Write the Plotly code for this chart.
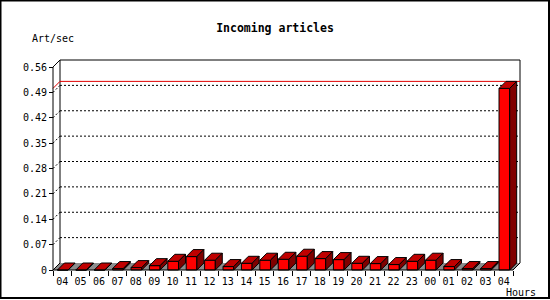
import plotly.graph_objects as go

# ---------------- data ----------------
hours = ["04", "05", "06", "07", "08", "09", "10", "11", "12", "13", "14", "15",
         "16", "17", "18", "19", "20", "21", "22", "23", "00", "01", "02", "03", "04"]
values = [0.0, 0.0, 0.0, 0.004, 0.0066, 0.012, 0.024, 0.037, 0.027, 0.0094, 0.0185, 0.027,
          0.0296, 0.038, 0.0315, 0.0287, 0.0185, 0.0177, 0.015, 0.024, 0.027, 0.0094, 0.004, 0.004, 0.501]
y_ticks = [0, 0.07, 0.14, 0.21, 0.28, 0.35, 0.42, 0.49, 0.56]
y_ticktext = ["0", "0.07", "0.14", "0.21", "0.28", "0.35", "0.42", "0.49", "0.56"]
title_text = "Incoming articles"
y_title = "Art/sec"
x_title = "Hours"

# ---------------- geometry ----------------
W, H = 550, 300
L, R, T, B = 40, 15, 50, 20
pw, ph = W - L - R, H - T - B
x0px, y0px = 53, 270          # front axis origin in pixels
ux = 18.4                     # px per category
ytop = y_ticks[-1]
uy = (y0px - 67) / ytop       # px per unit value
depth = 7
dx, dy = depth / ux, depth / uy
n = len(hours)
xr = [(L - x0px) / ux, (W - R - x0px) / ux]
yr = [(y0px - (H - B)) / uy, (y0px - T) / uy]
bar_off, bar_w = 0.24, 0.58

FRONT, TOP, SIDE, FLOOR = "#ff0000", "#c00000", "#800000", "#8c8c8c"
FONT = "DejaVu Sans Mono"

fig = go.Figure()

# floor
fig.add_trace(go.Scatter(x=[0, n, n + dx, dx, 0], y=[0, 0, dy, dy, 0], mode="lines",
                         fill="toself", fillcolor=FLOOR, line=dict(width=0),
                         hoverinfo="skip", showlegend=False))

fx, fy, tx, ty, sx, sy = [], [], [], [], [], []
for i, v in enumerate(values):
    x1 = i + bar_off
    x2 = x1 + bar_w
    fx += [x1, x2, x2, x1, x1, None]
    fy += [0, 0, v, v, 0, None]
    tx += [x1, x2, x2 + dx, x1 + dx, x1, None]
    ty += [v, v, v + dy, v + dy, v, None]
    sx += [x2, x2 + dx, x2 + dx, x2, x2, None]
    sy += [0, dy, v + dy, v, 0, None]

for xs, ys, col in [(fx, fy, FRONT), (tx, ty, TOP), (sx, sy, SIDE)]:
    fig.add_trace(go.Scatter(x=xs, y=ys, mode="lines", fill="toself", fillcolor=col,
                             line=dict(color="black", width=1), hoverinfo="skip",
                             showlegend=False))

shapes = []
def seg(xa, ya, xb, yb, color="black", dash="solid", layer="below", width=1):
    shapes.append(dict(type="line", xref="x", yref="y", x0=xa, y0=ya, x1=xb, y1=yb,
                       line=dict(color=color, width=width, dash=dash), layer=layer))

# back wall
seg(dx, dy, dx, ytop + dy)
seg(dx, ytop + dy, n + dx, ytop + dy)
seg(n + dx, ytop + dy, n + dx, dy)
# grid lines
for g in y_ticks[1:-1]:
    seg(dx, g + dy, n + dx, g + dy, dash="2px,2px")
    seg(0, g, dx, g + dy, dash="2px,2px")
# max line
vmax = max(values)
seg(0, vmax, dx, vmax + dy, color="#e00000")
seg(dx, vmax + dy, n + dx, vmax + dy, color="#e00000")
# front axes
seg(0, 0, 0, ytop, layer="above")
seg(0, ytop, dx, ytop + dy, layer="above")
seg(0, 0, n, 0, layer="above")
seg(n, 0, n + dx, dy, layer="above")
seg(0, 0, dx, dy, layer="above")

# outer border
shapes.append(dict(type="rect", xref="paper", yref="paper",
                   x0=(0.5 - L) / pw, x1=(549 - L) / pw,
                   y0=(H - B - 298) / ph, y1=(H - B - 0.5) / ph,
                   line=dict(color="black", width=2), layer="above"))

fig.update_layout(
    width=W, height=H, margin=dict(l=L, r=R, t=T, b=B),
    paper_bgcolor="white", plot_bgcolor="white", showlegend=False,
    shapes=shapes,
    font=dict(family=FONT, size=10, color="black"),
    title=dict(text="<b>" + title_text + "</b>", x=0.5, xref="container", xanchor="center",
               y=1 - 28 / H, yref="container", yanchor="middle",
               font=dict(family=FONT, size=11.5, color="black")),
    xaxis=dict(range=xr, fixedrange=True, anchor="free", position=(H - B - y0px) / ph,
               showgrid=False, zeroline=False, showline=False,
               tickmode="array", tickvals=[i + 0.5 for i in range(n)], ticktext=hours,
               ticks="outside", ticklen=2, tickcolor="rgba(0,0,0,0)",
               tickfont=dict(family=FONT, size=10, color="black"),
               minor=dict(tickmode="array", tickvals=list(range(n + 1)), ticks="outside",
                          ticklen=5, tickcolor="black", showgrid=False)),
    yaxis=dict(range=yr, fixedrange=True, anchor="free", position=(x0px - L) / pw,
               showgrid=False, zeroline=False, showline=False,
               tickmode="array", tickvals=y_ticks, ticktext=y_ticktext,
               ticks="outside", ticklen=4, tickcolor="black",
               tickfont=dict(family=FONT, size=10, color="black")),
    annotations=[
        dict(text=y_title, xref="paper", yref="paper", x=(30 - L) / pw, y=(H - B - 38.6) / ph,
             xanchor="left", yanchor="middle", showarrow=False,
             font=dict(family=FONT, size=10, color="black")),
        dict(text=x_title, xref="paper", yref="paper", x=(504 - L) / pw, y=(H - B - 292) / ph,
             xanchor="left", yanchor="middle", showarrow=False,
             font=dict(family=FONT, size=10, color="black")),
    ],
)

fig.write_html("out.html")
